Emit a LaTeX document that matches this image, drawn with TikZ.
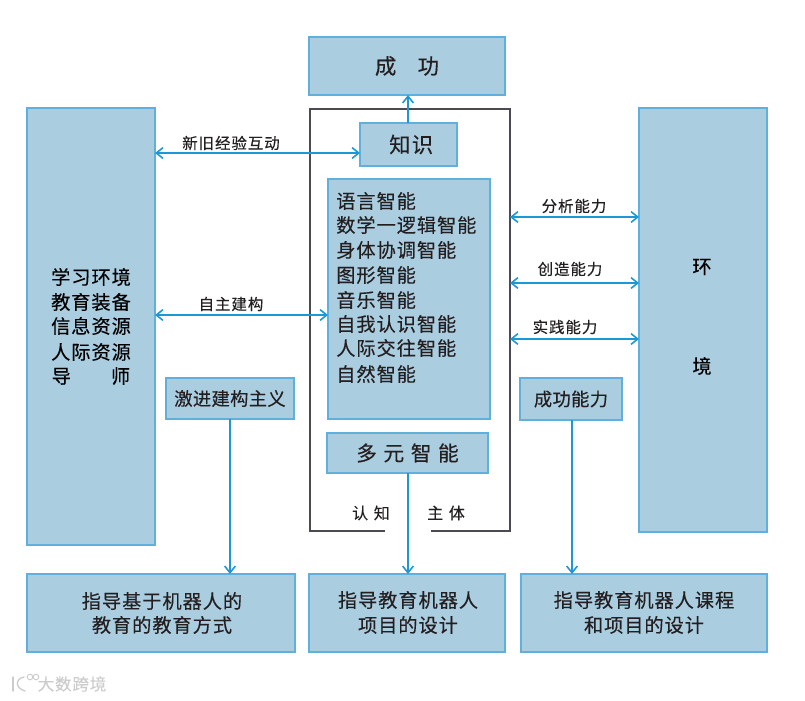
\documentclass[tikz,border=0pt]{standalone}
\usepackage{fontspec}
\setmainfont{Noto Sans CJK SC}
\usetikzlibrary{arrows.meta}
\definecolor{boxfill}{HTML}{ABCDE0}
\definecolor{boxline}{HTML}{5FB0DC}
\definecolor{arrowblue}{HTML}{1C98D6}
\definecolor{framegray}{HTML}{4A4A55}
\definecolor{inkc}{HTML}{231F20}
\newcommand\fs[2]{\fontsize{#1}{#1}\selectfont\addfontfeature{LetterSpace=#2,FakeBold=0.25}}
\newcommand\bx[6]{%
  \pgfmathsetmacro\bw{(#4-#2)*0.75}\pgfmathsetmacro\bh{(#5-#3)*0.75}%
  \node[boxnode,minimum width=\bw pt,minimum height=\bh pt] (#1) at ({(#2+#4)/2},{(#3+#5)/2}) {#6};}
\tikzset{
  x=0.75pt,y=-0.75pt,
  boxnode/.style={draw=boxline,fill=boxfill,line width=0.8pt,inner sep=0pt,outer sep=0pt,text=inkc,align=center},
  arr/.style={draw=arrowblue,line width=1.3pt,{Straight Barb[length=5pt,width=8pt,line width=1.2pt]}-{Straight Barb[length=5pt,width=8pt,line width=1.2pt]}},
  arrone/.style={draw=arrowblue,line width=1.3pt,-{Straight Barb[length=5pt,width=8pt,line width=1.2pt]}},
  lab/.style={inner sep=0pt,text=inkc,font=\fs{11.6}{6}},
  big/.style={font=\fs{14.4}{5}},
  frameline/.style={draw=framegray,line width=1.3pt},
}
\begin{document}
\begin{tikzpicture}
\useasboundingbox (0,0) rectangle (805,700);
% frame
\coordinate (fa) at (385,531); \coordinate (fb) at (310,531); \coordinate (fc) at (310,109);
\coordinate (fd) at (510,109); \coordinate (fe) at (510,531); \coordinate (ff) at (431,531);
\draw[frameline] (fa) -- (fb) -- (fc) -- (fd) -- (fe) -- (ff);
% boxes
\bx{S}{309}{37}{505}{95}{\fontsize{16}{16}\selectfont\addfontfeature{FakeBold=0.25}成\hspace{16pt}功}
\bx{L}{27}{108}{155}{545}{}
\bx{R}{639}{108}{767}{532}{}
\bx{K}{360}{123}{457}{166}{\hspace{4pt}\fs{16}{6}知识}
\bx{I}{328}{179}{490}{419}{}
\bx{M}{327}{433}{488}{473}{\fs{15.5}{32}多元智能}
\bx{J}{166}{378}{294}{419}{\fs{13.7}{2}激进建构主义}
\bx{C}{520}{378}{622}{420}{\fs{13.7}{2}成功能力}
\bx{B1}{27}{574}{295}{652}{}
\bx{B2}{309}{574}{505}{652}{}
\bx{B3}{521}{574}{767}{652}{}
% box texts
\node[big,inner sep=0pt,anchor=center] (L1) at (91,277) {学习环境};
\node[big,inner sep=0pt] (L2) at (91,302) {教育装备};
\node[big,inner sep=0pt] (L3) at (91,326) {信息资源};
\node[big,inner sep=0pt] (L4) at (91,352) {人际资源};
\node[big,inner sep=0pt] (L5) at (91,376) {导\hspace{30pt}师};
\node[big,inner sep=0pt] (R1) at (702,267) {环};
\node[big,inner sep=0pt] (R2) at (702,366) {境};
\foreach \nm/\yy/\tx in {a/201/语言智能,b/225/数学一逻辑智能,c/250/身体协调智能,d/275/图形智能,e/300/音乐智能,f/324/自我认识智能,g/348/人际交往智能,h/374/自然智能}{
  \node[big,inner sep=0pt,anchor=west,text=inkc] (I\nm) at (336,\yy) {\tx};
}
\node[big,inner sep=0pt,text=inkc] (B1a) at (162,601) {指导基于机器人的};
\node[big,inner sep=0pt,text=inkc] (B1b) at (162,625) {教育的教育方式};
\node[big,inner sep=0pt,text=inkc] (B2a) at (408,600) {指导教育机器人};
\node[big,inner sep=0pt,text=inkc] (B2b) at (408,625) {项目的设计};
\node[big,inner sep=0pt,text=inkc] (B3a) at (644,600) {指导教育机器人课程};
\node[big,inner sep=0pt,text=inkc] (B3b) at (644,625) {和项目的设计};
% connector heights
\coordinate (h1) at (0,153); \coordinate (h2) at (0,315);
\coordinate (h3) at (0,217); \coordinate (h4) at (0,283); \coordinate (h5) at (0,339);
\coordinate (fr) at (510,0);
\coordinate (vM) at (408,0); \coordinate (vJ) at (230,0); \coordinate (vC) at (572,0);
% connectors
\draw[arr] (L.east |- h1) -- (K.west |- h1);
\draw[arr] (L.east |- h2) -- (I.west |- h2);
\draw[arr] (fr |- h3) -- (R.west |- h3);
\draw[arr] (fr |- h4) -- (R.west |- h4);
\draw[arr] (fr |- h5) -- (R.west |- h5);
\draw[arrone] (vM |- K.north) -- (vM |- S.south);
\draw[arrone] (vM |- M.south) -- (vM |- B2.north);
\draw[arrone] (vJ |- J.south) -- (vJ |- B1.north);
\draw[arrone] (vC |- C.south) -- (vC |- B3.north);
% labels
\node[lab] (l1) at (231,143) {新旧经验互动};
\node[lab] (l2) at (231,304) {自主建构};
\node[lab] (l3) at (574,206) {分析能力};
\node[lab] (l4) at (570,269) {创造能力};
\node[lab] (l5) at (565,327) {实践能力};
\node[lab,font=\fs{12}{35}] (l6) at (371,513) {认知};
\node[lab,font=\fs{12}{35}] (l7) at (446,513) {主体};
% watermark
\node[inner sep=0pt,text=black!20,font=\fs{12.4}{5}] (wm) at (72,684) {大数跨境};
\draw[black!20,line width=1pt,line cap=round] (13,677) -- (13,691);
\draw[black!20,line width=1pt,line cap=round] (24,677) .. controls (15,679) and (15,688) .. (25,691);
\draw[black!20,line width=0.7pt] (30,677) circle (2.8);
\draw[black!20,line width=0.7pt] (36,677) circle (2.8);
\end{tikzpicture}
\end{document}
